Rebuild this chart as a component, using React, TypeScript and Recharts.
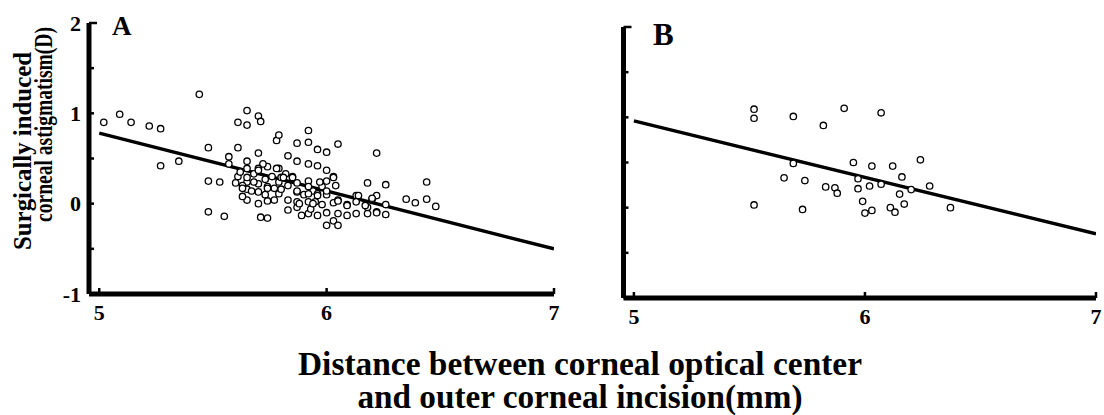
import React from 'react';
import { Scatter, ScatterChart, XAxis, YAxis } from 'recharts';

type Pt = { x: number; y: number };

// Panel A: all eyes
const pointsA: Pt[] = [
  { x: 5.02, y: 0.9 }, { x: 5.09, y: 0.99 }, { x: 5.14, y: 0.9 }, { x: 5.22, y: 0.86 },
  { x: 5.27, y: 0.83 }, { x: 5.27, y: 0.42 }, { x: 5.35, y: 0.47 }, { x: 5.44, y: 1.21 },
  { x: 5.48, y: 0.62 }, { x: 5.48, y: 0.25 }, { x: 5.53, y: 0.24 }, { x: 5.48, y: -0.09 },
  { x: 5.55, y: -0.14 }, { x: 5.57, y: 0.52 }, { x: 5.57, y: 0.44 }, { x: 5.61, y: 0.62 },
  { x: 5.61, y: 0.9 }, { x: 5.65, y: 1.03 }, { x: 5.65, y: 0.87 }, { x: 5.7, y: 0.97 },
  { x: 5.71, y: 0.91 }, { x: 5.78, y: 0.7 }, { x: 5.79, y: 0.76 }, { x: 5.7, y: 0.56 },
  { x: 5.83, y: 0.53 }, { x: 5.87, y: 0.67 }, { x: 5.92, y: 0.81 }, { x: 5.92, y: 0.68 },
  { x: 5.87, y: 0.47 }, { x: 5.92, y: 0.44 }, { x: 5.96, y: 0.6 }, { x: 5.96, y: 0.42 },
  { x: 6.0, y: 0.57 }, { x: 6.05, y: 0.66 }, { x: 6.0, y: 0.37 }, { x: 6.03, y: 0.3 },
  { x: 6.22, y: 0.56 }, { x: 6.18, y: 0.23 }, { x: 6.26, y: 0.21 }, { x: 6.44, y: 0.24 },
  { x: 6.35, y: 0.05 }, { x: 6.39, y: 0.01 }, { x: 6.44, y: 0.05 }, { x: 6.48, y: -0.03 },
  { x: 6.13, y: 0.09 }, { x: 6.22, y: 0.09 }, { x: 6.2, y: 0.05 }, { x: 6.13, y: -0.11 },
  { x: 6.18, y: -0.11 }, { x: 6.22, y: -0.09 }, { x: 6.26, y: -0.01 }, { x: 6.26, y: -0.12 },
  { x: 6.09, y: -0.01 }, { x: 6.09, y: -0.13 }, { x: 6.13, y: 0.02 }, { x: 6.18, y: -0.04 },
  { x: 6.0, y: -0.24 }, { x: 6.03, y: -0.19 }, { x: 6.05, y: -0.24 }, { x: 6.05, y: -0.11 },
  { x: 6.0, y: -0.1 }, { x: 6.03, y: 0.01 }, { x: 6.05, y: 0.04 }, { x: 6.0, y: 0.1 },
  { x: 6.04, y: 0.2 }, { x: 6.0, y: 0.25 }, { x: 5.98, y: -0.01 }, { x: 5.96, y: -0.13 },
  { x: 5.92, y: -0.11 }, { x: 5.89, y: -0.13 }, { x: 5.87, y: -0.04 }, { x: 5.87, y: 0.02 },
  { x: 5.92, y: 0.02 }, { x: 5.95, y: 0.02 }, { x: 5.94, y: 0.14 }, { x: 5.9, y: 0.1 },
  { x: 5.92, y: 0.25 }, { x: 5.92, y: 0.19 }, { x: 5.87, y: 0.23 }, { x: 5.87, y: 0.13 },
  { x: 5.83, y: 0.2 }, { x: 5.83, y: 0.04 }, { x: 5.83, y: -0.07 }, { x: 5.85, y: 0.3 },
  { x: 5.82, y: 0.33 }, { x: 5.79, y: 0.39 }, { x: 5.79, y: 0.24 }, { x: 5.77, y: 0.17 },
  { x: 5.79, y: 0.11 }, { x: 5.77, y: 0.04 }, { x: 5.74, y: 0.41 }, { x: 5.72, y: 0.44 },
  { x: 5.73, y: 0.27 }, { x: 5.74, y: 0.19 }, { x: 5.73, y: 0.1 }, { x: 5.74, y: 0.03 },
  { x: 5.7, y: 0.0 }, { x: 5.71, y: -0.15 }, { x: 5.74, y: -0.16 }, { x: 5.7, y: 0.39 },
  { x: 5.7, y: 0.22 }, { x: 5.7, y: 0.13 }, { x: 5.68, y: 0.33 }, { x: 5.68, y: 0.24 },
  { x: 5.65, y: 0.47 }, { x: 5.65, y: 0.39 }, { x: 5.65, y: 0.24 }, { x: 5.65, y: 0.16 },
  { x: 5.65, y: 0.04 }, { x: 5.63, y: 0.08 }, { x: 5.63, y: 0.2 }, { x: 5.61, y: 0.3 },
  { x: 5.6, y: 0.23 }, { x: 5.76, y: 0.3 }, { x: 5.8, y: 0.29 }, { x: 5.98, y: 0.19 },
  { x: 5.96, y: 0.11 }, { x: 5.93, y: -0.06 }, { x: 5.62, y: 0.35 }, { x: 5.63, y: 0.17 },
  { x: 5.65, y: 0.29 }, { x: 5.67, y: 0.14 }, { x: 5.7, y: 0.37 }, { x: 5.74, y: 0.17 },
  { x: 5.78, y: 0.39 }, { x: 5.8, y: 0.16 }, { x: 5.81, y: 0.29 }, { x: 5.85, y: 0.29 },
  { x: 5.87, y: 0.14 }, { x: 5.88, y: 0.0 }, { x: 5.92, y: 0.11 }, { x: 5.94, y: 0.0 },
  { x: 5.96, y: 0.09 }, { x: 5.97, y: 0.24 }, { x: 6.0, y: 0.14 }, { x: 6.03, y: 0.29 },
  { x: 6.05, y: 0.03 }, { x: 6.09, y: -0.02 }, { x: 6.14, y: 0.09 }, { x: 6.17, y: -0.02 },
  { x: 6.2, y: 0.06 }, { x: 6.22, y: -0.1 },
];

// Panel B: subgroup
const pointsB: Pt[] = [
  { x: 5.52, y: 1.09 }, { x: 5.52, y: 0.99 }, { x: 5.69, y: 1.01 }, { x: 5.82, y: 0.91 },
  { x: 5.91, y: 1.1 }, { x: 6.07, y: 1.05 }, { x: 5.52, y: 0.03 }, { x: 5.69, y: 0.49 },
  { x: 5.65, y: 0.33 }, { x: 5.74, y: 0.3 }, { x: 5.73, y: -0.02 }, { x: 5.83, y: 0.23 },
  { x: 5.87, y: 0.22 }, { x: 5.88, y: 0.16 }, { x: 5.95, y: 0.5 }, { x: 5.97, y: 0.32 },
  { x: 5.97, y: 0.21 }, { x: 5.99, y: 0.07 }, { x: 6.0, y: -0.06 }, { x: 6.03, y: -0.03 },
  { x: 6.02, y: 0.24 }, { x: 6.03, y: 0.46 }, { x: 6.07, y: 0.26 }, { x: 6.12, y: 0.46 },
  { x: 6.16, y: 0.34 }, { x: 6.15, y: 0.15 }, { x: 6.2, y: 0.2 }, { x: 6.17, y: 0.04 },
  { x: 6.11, y: 0.0 }, { x: 6.13, y: -0.05 }, { x: 6.24, y: 0.53 }, { x: 6.28, y: 0.24 },
  { x: 6.37, y: 0.0 },
];

// regression lines (end points)
const fitA: Pt[] = [{ x: 5, y: 0.78 }, { x: 7, y: -0.5 }];
const fitB: Pt[] = [{ x: 5, y: 0.96 }, { x: 7, y: -0.29 }];

const xTicks = [5, 6, 7];
const yTicks = [-1, -0.5, 0, 0.5, 1, 1.5, 2];
const xDomain = [4.955, 7];
const yDomain = [-1, 2];

const SERIF = '"Liberation Serif", "Times New Roman", serif';
const AXIS = { stroke: '#000', strokeWidth: 5 };

const Circle = (p: any) => (
  <circle cx={p.cx} cy={p.cy} r={3.2} fill="#fff" stroke="#000" strokeWidth={1.3} />
);
const NoDot = () => <g />;

// tick marks point inward, labels sit outside
const XTick = (p: any) => {
  const x = p.payload.coordinate;
  const y0 = p.y - 4; // axis line (p.y = axis + tickSize)
  return (
    <g>
      <line x1={x} x2={x} y1={y0} y2={y0 - 6} stroke="#000" strokeWidth={2.5} />
      <text
        x={x}
        y={y0 + 26}
        textAnchor="middle"
        fontFamily={SERIF}
        fontWeight={700}
        fontSize={22}
        fill="#000"
      >
        {p.payload.value}
      </text>
    </g>
  );
};

const makeYTick = (showLabels: boolean) => (p: any) => {
  const y = p.payload.coordinate;
  const x0 = p.x + 4; // axis line (p.x = axis - tickSize)
  const v = p.payload.value;
  return (
    <g>
      <line x1={x0} x2={x0 + (v === 2 ? 8 : 5)} y1={y} y2={y} stroke="#000" strokeWidth={2.5} />
      {showLabels && Number.isInteger(v) ? (
        <text
          x={x0 - 8}
          y={y + 7.5}
          textAnchor="end"
          fontFamily={SERIF}
          fontWeight={700}
          fontSize={22}
          fill="#000"
        >
          {String(v)}
        </text>
      ) : null}
    </g>
  );
};

function Panel({
  points,
  fit,
  showYLabels,
  width,
  height,
  margin,
}: {
  points: Pt[];
  fit: Pt[];
  showYLabels: boolean;
  width: number;
  height: number;
  margin: { top: number; right: number; bottom: number; left: number };
}) {
  return (
    <ScatterChart width={width} height={height} margin={margin}>
      <XAxis
        type="number"
        dataKey="x"
        domain={xDomain}
        ticks={xTicks}
        allowDataOverflow
        height={30}
        tickSize={4}
        tickMargin={0}
        axisLine={AXIS}
        tickLine={false}
        tick={XTick}
        interval={0}
      />
      <YAxis
        type="number"
        dataKey="y"
        domain={yDomain}
        ticks={yTicks}
        allowDataOverflow
        width={40}
        tickSize={4}
        tickMargin={0}
        axisLine={AXIS}
        tickLine={false}
        tick={makeYTick(showYLabels)}
        interval={0}
      />
      <Scatter
        data={fit}
        line={{ stroke: '#000', strokeWidth: 3.4 }}
        shape={NoDot}
        isAnimationActive={false}
      />
      <Scatter data={points} shape={Circle} isAnimationActive={false} />
    </ScatterChart>
  );
}

export default function App() {
  return (
    <div
      style={{
        position: 'absolute',
        left: 0,
        top: 0,
        width: 1104,
        height: 415,
        background: '#fff',
        overflow: 'hidden',
      }}
    >
      <div style={{ position: 'absolute', left: 0, top: 0 }}>
        <Panel
          points={pointsA}
          fit={fitA}
          showYLabels
          width={580}
          height={330}
          margin={{ top: 23, right: 26, bottom: 6, left: 49 }}
        />
      </div>
      <div style={{ position: 'absolute', left: 560, top: 0 }}>
        <Panel
          points={pointsB}
          fit={fitB}
          showYLabels={false}
          width={544}
          height={330}
          margin={{ top: 27, right: 8, bottom: 2, left: 23.5 }}
        />
      </div>
      <svg
        width={1104}
        height={415}
        style={{ position: 'absolute', left: 0, top: 0, pointerEvents: 'none' }}
        fontFamily={SERIF}
        fontWeight={700}
      >
        <text x={112} y={35} fontSize={27}>A</text>
        <text x={653} y={45} fontSize={31}>B</text>
        <text
          x={31}
          y={151}
          fontSize={25}
          textAnchor="middle"
          textLength={198}
          lengthAdjust="spacingAndGlyphs"
          transform="rotate(-90 31 151)"
        >
          Surgically induced
        </text>
        <text
          x={52}
          y={124.5}
          fontSize={25}
          textAnchor="middle"
          textLength={195}
          lengthAdjust="spacingAndGlyphs"
          transform="rotate(-90 52 124.5)"
        >
          corneal astigmatism(D)
        </text>
        <text
          x={580}
          y={375}
          fontSize={33}
          textAnchor="middle"
          textLength={564}
          lengthAdjust="spacingAndGlyphs"
        >
          Distance between corneal optical center
        </text>
        <text
          x={580}
          y={408}
          fontSize={33}
          textAnchor="middle"
          textLength={445}
          lengthAdjust="spacingAndGlyphs"
        >
          and outer corneal incision(mm)
        </text>
      </svg>
    </div>
  );
}
